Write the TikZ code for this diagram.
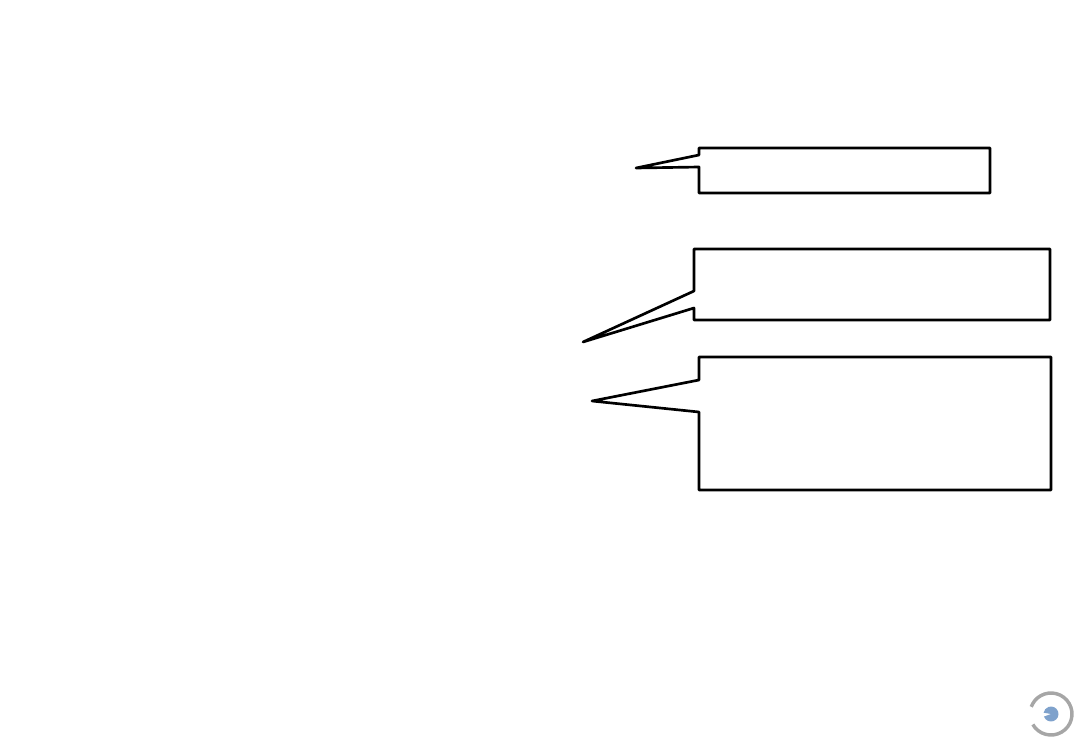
\documentclass[tikz,border=0pt]{standalone}
\definecolor{iconblue}{HTML}{7FA2CC}
\begin{document}
\begin{tikzpicture}[x=0.75pt,y=-0.75pt,callout/.style={draw=black,line width=2pt,line join=round}]
\useasboundingbox (0,0) rectangle (1083,750);
\draw[callout] (699,148) -- (990,148) -- (990,193) -- (699,193) -- (699,167) -- (636,168) -- (699,155) -- cycle;
\draw[callout] (694,249) -- (1050,249) -- (1050,320) -- (694,320) -- (694,308) -- (583,342) -- (694,291) -- cycle;
\draw[callout] (699,357) -- (1051,357) -- (1051,490) -- (699,490) -- (699,412) -- (592,401) -- (699,380) -- cycle;
\draw[gray!70,line width=2.6pt] (1051,714) ++(150:21) arc[start angle=150,end angle=-160,radius=21];
\fill[iconblue] (1051,714) ++(160:7.5) arc[start angle=160,end angle=-170,radius=7.5] -- (1051,714) -- cycle;
\end{tikzpicture}
\end{document}
